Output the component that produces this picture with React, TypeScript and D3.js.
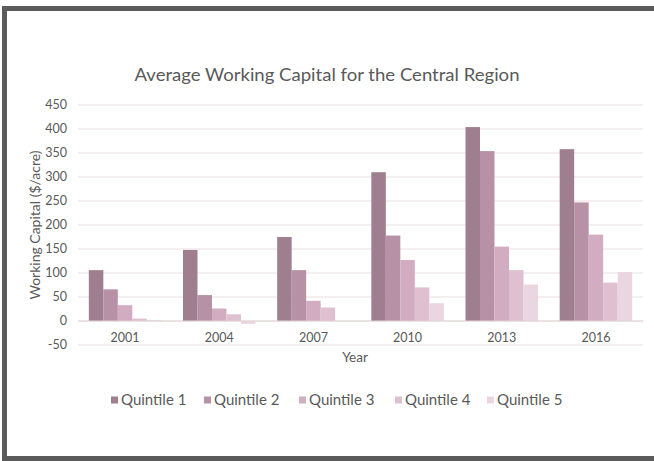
import React from "react";
import * as d3 from "d3";

const years = ["2001", "2004", "2007", "2010", "2013", "2016"];
const seriesNames = ["Quintile 1", "Quintile 2", "Quintile 3", "Quintile 4", "Quintile 5"];
const quintile1 = [106, 148, 175, 310, 404, 358];
const quintile2 = [66, 54, 106, 178, 354, 247];
const quintile3 = [33, 26, 42, 127, 155, 180];
const quintile4 = [5, 14, 28, 70, 106, 80];
const quintile5 = [2, -6, 0, 37, 76, 102];
const yTicks = [-50, 0, 50, 100, 150, 200, 250, 300, 350, 400, 450];
const colors = ["#9f7f8f", "#b792a6", "#d2adc2", "#dec0d1", "#ead6e1"];

const seriesValues = [quintile1, quintile2, quintile3, quintile4, quintile5];

const FONT = "Lato, 'Open Sans', sans-serif";

export default function App() {
  const W = 654;
  const H = 461;
  const x0 = d3
    .scaleBand<string>()
    .domain(years)
    .range([78, 643])
    .paddingInner(0.23)
    .paddingOuter(0.115);
  const x1 = d3
    .scaleBand<string>()
    .domain(seriesNames)
    .range([0, x0.bandwidth()])
    .padding(0);
  const y = d3.scaleLinear().domain([-50, 450]).range([345, 105]);

  const legendX = [111, 204, 299, 395, 487];

  return (
    <svg
      width={W}
      height={H}
      style={{ position: "absolute", left: 0, top: 0, background: "#fff" }}
      fontFamily={FONT}
    >
      <rect x={0} y={0} width={W} height={H} fill="#fff" />
      <rect x={4.5} y={8.5} width={700} height={450} fill="none" stroke="#5b5b5b" strokeWidth={5} />

      <text
        x={327}
        y={81}
        textAnchor="middle"
        fontSize={18}
        fill="#595959"
        textLength={385}
        lengthAdjust="spacingAndGlyphs"
      >
        Average Working Capital for the Central Region
      </text>

      {yTicks.map((t) => (
        <g key={t}>
          <line x1={78} x2={643} y1={y(t)} y2={y(t)} stroke="#eadede" strokeWidth={1} />
          <text x={67} y={y(t)} dy="0.35em" textAnchor="end" fontSize={12.5} fill="#595959">
            {t}
          </text>
        </g>
      ))}

      {years.map((yr, i) => (
        <g key={yr} transform={`translate(${x0(yr)},0)`}>
          {seriesNames.map((s, j) => {
            const v = seriesValues[j][i];
            const top = y(Math.max(0, v));
            const h = Math.abs(y(v) - y(0));
            return (
              <rect
                key={s}
                x={x1(s)}
                y={top}
                width={x1.bandwidth()}
                height={h}
                fill={colors[j]}
              />
            );
          })}
          <text
            x={x0.bandwidth() / 2}
            y={338}
            dy="0.35em"
            textAnchor="middle"
            fontSize={12.5}
            fill="#595959"
          >
            {yr}
          </text>
        </g>
      ))}

      <line x1={78} x2={643} y1={y(0)} y2={y(0)} stroke="#e0d4d4" strokeWidth={1} />

      <text x={355} y={357} dy="0.35em" textAnchor="middle" fontSize={13.5} fill="#595959">
        Year
      </text>

      <text
        transform={`translate(35,225) rotate(-90)`}
        textAnchor="middle"
        dy="0.35em"
        fontSize={14}
        fill="#595959"
      >
        Working Capital ($/acre)
      </text>

      {seriesNames.map((s, j) => (
        <g key={s} transform={`translate(${legendX[j]},400)`}>
          <rect x={0} y={-3.5} width={7} height={7} fill={colors[j]} />
          <text x={10} y={0} dy="0.35em" fontSize={15} fill="#595959">
            {s}
          </text>
        </g>
      ))}
    </svg>
  );
}
